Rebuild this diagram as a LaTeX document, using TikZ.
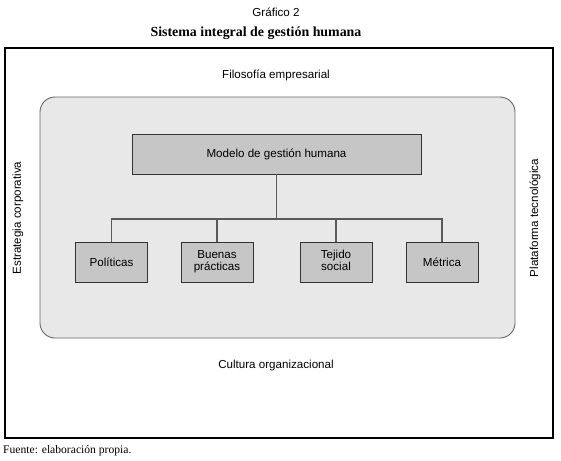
\documentclass[tikz,border=0pt]{standalone}
\usepackage{fontspec}
\setmainfont{Liberation Sans}
\newfontfamily\titlefont{Liberation Serif}
\usepackage{xcolor}
\usepackage{tikz}
\usetikzlibrary{calc, positioning}

\definecolor{panelgray}{RGB}{232,232,232}
\definecolor{boxgray}{RGB}{198,198,198}
\definecolor{linegray}{RGB}{90,90,90}

\newcommand{\twolines}[2]{\raisebox{-2pt}{\begin{tabular}{@{}c@{}}#1\\#2\end{tabular}}}

\begin{document}
\begin{tikzpicture}[
    x=1pt, y=-1pt,
    every node/.style={font=\fontsize{11.6}{10.5}\selectfont, inner sep=0pt},
    item/.style={draw=black!80, line width=0.9pt, fill=boxgray,
                 minimum height=40pt, minimum width=72pt, align=center},
    link/.style={draw=linegray, line width=1.1pt},
]
  \useasboundingbox (0,0) rectangle (561,460);

  % title lines
  \node (num) at (276,12) {Gráfico 2};
  \node[font=\titlefont\bfseries\fontsize{13.9}{15}\selectfont] (title)
        at (256,33) {Sistema integral de gestión humana};

  % outer frame and inner panel
  \draw[line width=2.6pt] (5,48) rectangle (553,438);
  \draw[draw=black!60, line width=0.9pt, fill=panelgray, rounded corners=15pt]
        (40,97) rectangle (515,338);

  \node (filo) at (276,75) {Filosofía empresarial};
  \node (cult) at (276,365) {Cultura organizacional};
  \node[rotate=90] (estr) at (18,218) {Estrategia corporativa};
  \node[rotate=90] (plat) at (535,218) {Plataforma tecnológica};

  % model and its parts
  \node[item, minimum width=289pt] (modelo) at (276.5,154) {Modelo de gestión humana};
  \node[item] (pol) at (111.5,262) {Políticas};
  \node[item] (bp)  at (217,262) {\twolines{Buenas}{prácticas}};
  \node[item] (tej) at (336,262) {\twolines{Tejido}{social}};
  \node[item] (met) at (442,262) {Métrica};

  \coordinate (bus) at (277,219);
  \draw[link] (modelo.south) -- (modelo.south |- bus);
  \draw[link] (pol.north) |- (bus -| met.north) -- (met.north);
  \draw[link] (bp.north) -- (bp.north |- bus);
  \draw[link] (tej.north) -- (tej.north |- bus);

  \node[anchor=west, font=\titlefont\fontsize{11.6}{13}\selectfont] (fuente)
        at (3,451) {Fuente: elaboración propia.};
\end{tikzpicture}
\end{document}
